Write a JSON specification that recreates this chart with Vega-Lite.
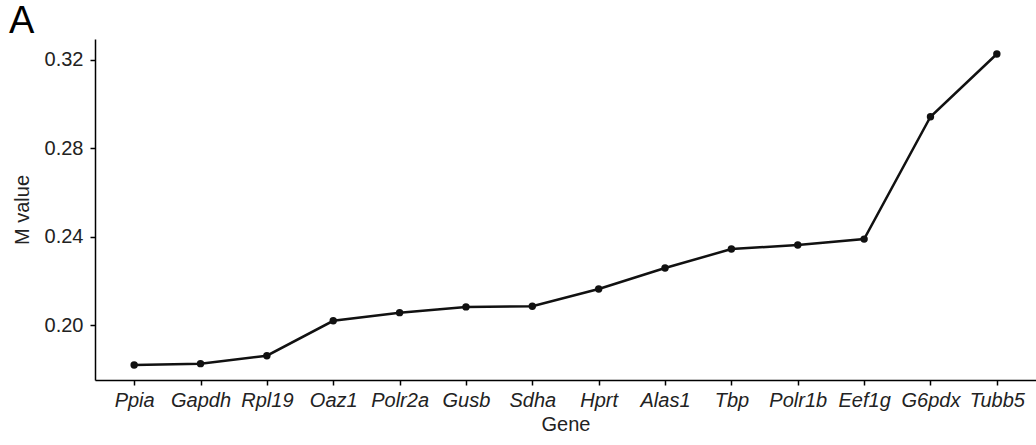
{
  "$schema": "https://vega.github.io/schema/vega-lite/v6.json",
  "width": 941,
  "height": 341,
  "autosize": "none",
  "padding": {"left": 95, "top": 39, "right": 0, "bottom": 65},
  "background": "white",
  "title": {"text": "A", "anchor": "start", "frame": "group", "dx": -86, "offset": 0, "dy": 2, "fontSize": 38, "fontWeight": "normal", "font": "Liberation Sans", "color": "black"},
  "config": {"view": {"stroke": null}},
  "data": {"values": [
    {"gene": "Ppia", "m": 0.1819},
    {"gene": "Gapdh", "m": 0.1825},
    {"gene": "Rpl19", "m": 0.1861},
    {"gene": "Oaz1", "m": 0.2019},
    {"gene": "Polr2a", "m": 0.2056},
    {"gene": "Gusb", "m": 0.2082},
    {"gene": "Sdha", "m": 0.2085},
    {"gene": "Hprt", "m": 0.2163},
    {"gene": "Alas1", "m": 0.2258},
    {"gene": "Tbp", "m": 0.2344},
    {"gene": "Polr1b", "m": 0.2362},
    {"gene": "Eef1g", "m": 0.2389},
    {"gene": "G6pdx", "m": 0.2943},
    {"gene": "Tubb5", "m": 0.3227}
  ]},
  "encoding": {
    "x": {"field": "gene", "type": "ordinal", "sort": null,
      "scale": {"type": "point", "padding": 0.59},
      "axis": {"title": "Gene", "labelAngle": 0, "labelFont": "Liberation Sans", "labelFontStyle": "italic", "labelFontSize": 20, "labelColor": "#222", "titleFont": "Liberation Sans", "titleFontSize": 20, "titleFontWeight": "normal", "titleColor": "#222", "titlePadding": 4, "domainColor": "black", "domainWidth": 1.5, "tickColor": "black", "tickWidth": 1.5, "tickSize": 5, "labelPadding": 5, "grid": false}},
    "y": {"field": "m", "type": "quantitative",
      "scale": {"domain": [0.1751, 0.3295], "nice": false, "zero": false},
      "axis": {"title": "M value", "values": [0.20, 0.24, 0.28, 0.32], "format": ".2f", "labelFont": "Liberation Sans", "labelFontSize": 20, "labelColor": "#222", "titleFont": "Liberation Sans", "titleFontSize": 20, "titleFontWeight": "normal", "titleColor": "#222", "titlePadding": 12, "domainColor": "black", "domainWidth": 1.5, "tickColor": "black", "tickWidth": 1.5, "tickSize": 5, "labelPadding": 7, "grid": false}}
  },
  "layer": [
    {"mark": {"type": "line", "color": "#111", "strokeWidth": 2.5}},
    {"mark": {"type": "point", "filled": true, "color": "#111", "size": 55, "opacity": 1}}
  ]
}
